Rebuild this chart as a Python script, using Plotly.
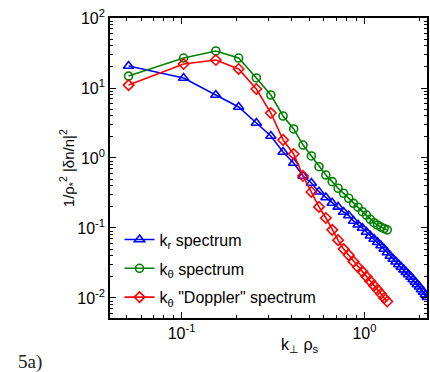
import math
import plotly.graph_objects as go

# wavenumber grids (k_perp * rho_s)
k_theta = [0.0513, 0.1026, 0.1539, 0.2052, 0.2565, 0.3078, 0.3591, 0.4104, 0.4617,
           0.5130, 0.5643, 0.6156, 0.6669, 0.7182, 0.7695, 0.8208, 0.8721, 0.9234,
           0.9747, 1.0260, 1.0773, 1.1286, 1.1799, 1.2312, 1.2825, 1.3338]
k_r = [0.0513, 0.1026, 0.1539, 0.2052, 0.2565, 0.3078, 0.3591, 0.4104, 0.4617,
       0.5130, 0.5643, 0.6156, 0.6669, 0.7182, 0.7695, 0.8208, 0.8721, 0.9234,
       0.9747, 1.0260, 1.0773, 1.1286, 1.1799, 1.2312, 1.2825, 1.3338, 1.3851,
       1.4364, 1.4877, 1.5390, 1.5903, 1.6416, 1.6929, 1.7442, 1.7955, 1.8468,
       1.8981, 1.9494, 2.0007, 2.0520, 2.1033, 2.1546, 2.2059]

# spectra 1/rho*^2 |dn/n|^2
spec_r = [20.6, 13.9, 7.94, 5.35, 3.16, 2.06, 1.22, 0.85, 0.553, 0.44, 0.330, 0.273,
          0.228, 0.200, 0.169, 0.151, 0.126, 0.111, 0.100, 0.0877, 0.0776, 0.0697,
          0.0625, 0.0562, 0.0501, 0.0447, 0.0398, 0.0361, 0.0329, 0.0301, 0.0277,
          0.0254, 0.0234, 0.0216, 0.0200, 0.0184, 0.0169, 0.0156, 0.0145, 0.0132,
          0.0122, 0.0112, 0.0103]
spec_theta = [14.8, 26.8, 33.8, 26.8, 13.9, 7.94, 3.98, 2.6, 1.53, 1.07, 0.751, 0.571,
              0.459, 0.369, 0.313, 0.266, 0.225, 0.198, 0.171, 0.153, 0.133, 0.119,
              0.110, 0.103, 0.098, 0.094]
spec_doppler = [11.0, 22.0, 25.1, 18.7, 9.68, 4.39, 1.81, 1.14, 0.553, 0.327, 0.200,
                0.139, 0.094, 0.067, 0.050, 0.041, 0.033, 0.0275, 0.0238, 0.0202,
                0.0174, 0.0150, 0.0131, 0.0115, 0.0100, 0.0089]

names = ["k<sub>r</sub> spectrum",
         "k<sub>\u03b8</sub> spectrum",
         "k<sub>\u03b8</sub> \"Doppler\" spectrum"]

fig = go.Figure()
series = [
    (k_r, spec_r, "#0000ff", "triangle-up-open", 9),
    (k_theta, spec_theta, "#008000", "circle-open", 8),
    (k_theta, spec_doppler, "#ff0000", "diamond-open", 8),
]
for i, ((xs, ys, col, sym, ms), nm) in enumerate(zip(series, names)):
    fig.add_trace(go.Scatter(
        x=xs, y=ys, mode="lines+markers", name=nm, legendgroup="g%d" % i,
        line=dict(color=col, width=1.6),
        marker=dict(symbol=sym, size=ms, color=col, line=dict(color=col, width=1.6)),
    ))

def minor_vals(lo, hi):
    vals = []
    for e in range(lo, hi):
        for m in range(2, 10):
            vals.append(m * 10 ** e)
    return vals

def sup_labels(exps):
    return ["10<sup>%d</sup>" % e for e in exps]

sans = "Liberation Sans, Arial, sans-serif"
tickfont = dict(family=sans, size=16, color="black")
common = dict(type="log", showgrid=False, zeroline=False, showline=True,
              linecolor="black", linewidth=1.6, mirror="ticks",
              ticks="inside", ticklen=6, tickwidth=1, tickcolor="black",
              tickfont=tickfont)

fig.update_xaxes(
    range=[math.log10(0.0406), math.log10(2.2)],
    tickmode="array", tickvals=[0.1, 1], ticktext=sup_labels([-1, 0]),
    minor=dict(tickmode="array", tickvals=minor_vals(-2, 1), ticks="inside",
               ticklen=3, tickwidth=1, tickcolor="black"),
    **common)
fig.update_yaxes(
    range=[-2.286, 2.0],
    tickmode="array", tickvals=[0.01, 0.1, 1, 10, 100],
    ticktext=sup_labels([-2, -1, 0, 1, 2]),
    minor=dict(tickmode="array", tickvals=minor_vals(-3, 2), ticks="inside",
               ticklen=3, tickwidth=1, tickcolor="black"),
    **common)

fig.update_layout(
    width=430, height=372,
    margin=dict(l=110, r=1, t=18, b=54),
    paper_bgcolor="white", plot_bgcolor="white",
    font=dict(family=sans, color="black"),
    showlegend=True,
    legend=dict(x=0.03, y=0.318, xanchor="left", yanchor="top",
                bgcolor="rgba(0,0,0,0)", borderwidth=0, tracegroupgap=5,
                font=dict(size=16, family=sans)),
    annotations=[
        dict(text="1/\u03c1<sub>*</sub><sup>2</sup> |\u03b4n/n|<sup>2</sup>",
             xref="paper", yref="paper", x=-0.135, y=0.50,
             xanchor="center", yanchor="middle", textangle=-90, showarrow=False,
             font=dict(size=15)),
        dict(text="k<sub>\u22a5</sub> \u03c1<sub>s</sub>",
             xref="paper", yref="paper", x=0.60, y=-0.093,
             xanchor="center", yanchor="middle", showarrow=False,
             font=dict(size=16)),
        dict(text="5a)", xref="paper", yref="paper", x=-0.295, y=-0.147,
             xanchor="left", yanchor="middle", showarrow=False,
             font=dict(size=19, family="Times New Roman, Liberation Serif, serif",
                       color="#222222")),
    ],
)

fig.write_html("out.html")
